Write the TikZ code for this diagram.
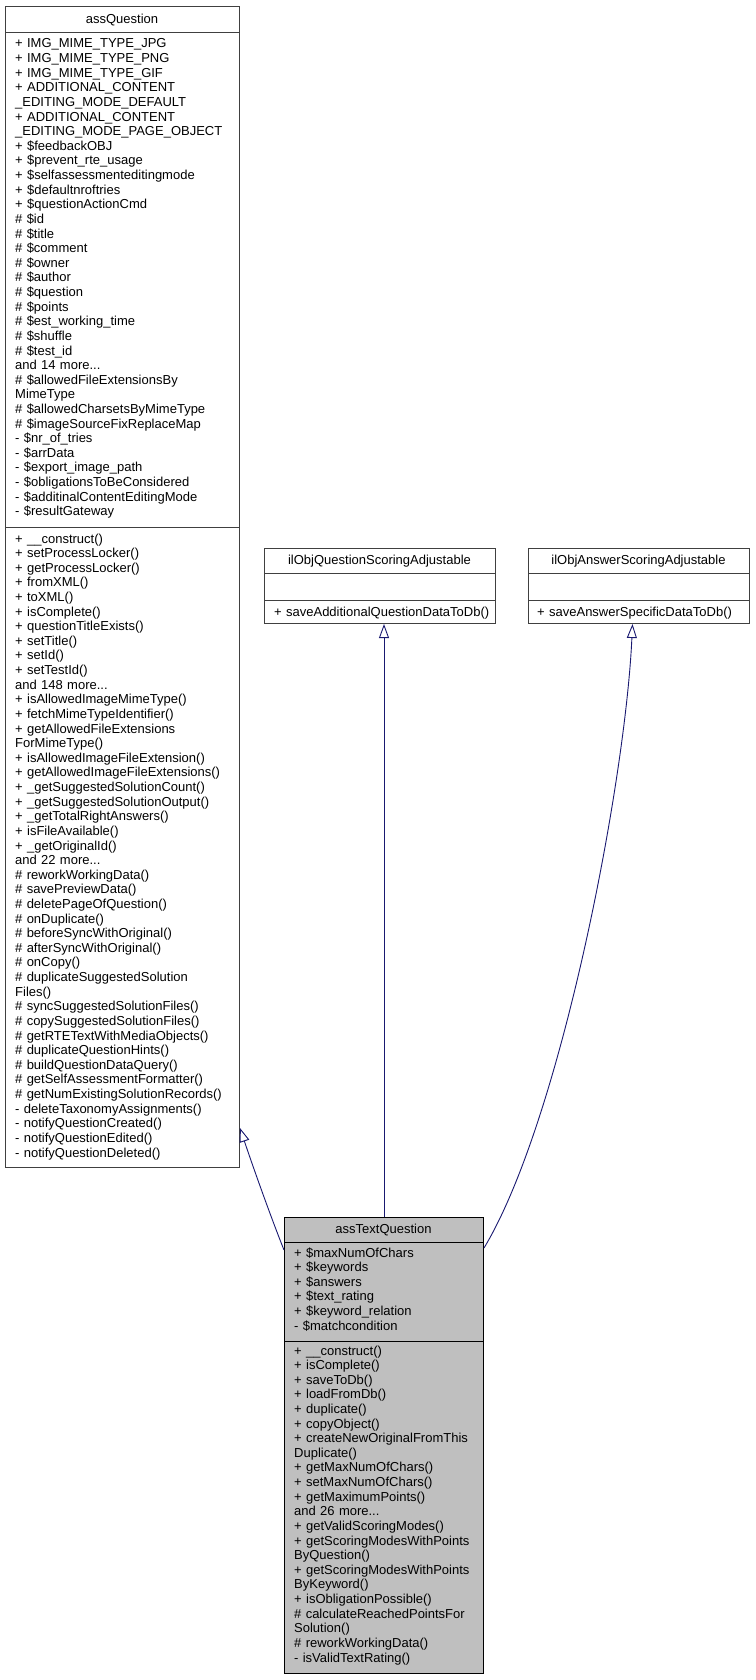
\documentclass[tikz,border=0pt]{standalone}
\usepackage{fontspec}
\setmainfont{Liberation Sans}
\usetikzlibrary{arrows.meta}

\definecolor{edgeblue}{HTML}{191970}
\definecolor{nodegray}{HTML}{BFBFBF}
\definecolor{framegray}{HTML}{404040}

\tikzset{
  classbox/.style={draw=framegray, line width=1pt, inner sep=0pt, anchor=north west},
  divider/.style={draw=framegray, line width=1pt},
  classname/.style={anchor=base, inner sep=0pt, font=\fontsize{13}{14.62}\selectfont},
  members/.style={anchor=base west, inner sep=0pt, align=left, font=\fontsize{13}{14.62}\selectfont},
  inherit/.style={draw=edgeblue, line width=0.9pt, -{Triangle[open,length=14pt,width=10pt]}},
}

\begin{document}
\begin{tikzpicture}[x=1pt, y=-1pt]
  \useasboundingbox (0,0) rectangle (755,1680);

  % base class
  \node[classbox, minimum width=234pt, minimum height=1161pt] (q) at (5,6) {};
  \node[classname] (qname) at (122,24) {assQuestion};
  \draw[divider] (5,33) -- (239,33);
  \node[members, text width=222pt] (qattr) at (15,48) {%
    + IMG\_MIME\_TYPE\_JPG\\
    + IMG\_MIME\_TYPE\_PNG\\
    + IMG\_MIME\_TYPE\_GIF\\
    + ADDITIONAL\_CONTENT\\
    \_EDITING\_MODE\_DEFAULT\\
    + ADDITIONAL\_CONTENT\\
    \_EDITING\_MODE\_PAGE\_OBJECT\\
    + \$feedbackOBJ\\
    + \$prevent\_rte\_usage\\
    + \$selfassessmenteditingmode\\
    + \$defaultnroftries\\
    + \$questionActionCmd\\
    \# \$id\\
    \# \$title\\
    \# \$comment\\
    \# \$owner\\
    \# \$author\\
    \# \$question\\
    \# \$points\\
    \# \$est\_working\_time\\
    \# \$shuffle\\
    \# \$test\_id\\
    and 14 more...\\
    \# \$allowedFileExtensionsBy\\
    MimeType\\
    \# \$allowedCharsetsByMimeType\\
    \# \$imageSourceFixReplaceMap\\
    - \$nr\_of\_tries\\
    - \$arrData\\
    - \$export\_image\_path\\
    - \$obligationsToBeConsidered\\
    - \$additinalContentEditingMode\\
    - \$resultGateway};
  \draw[divider] (5,527) -- (239,527);
  \node[members, text width=222pt] (qops) at (15,543) {%
    + \_\_construct()\\
    + setProcessLocker()\\
    + getProcessLocker()\\
    + fromXML()\\
    + toXML()\\
    + isComplete()\\
    + questionTitleExists()\\
    + setTitle()\\
    + setId()\\
    + setTestId()\\
    and 148 more...\\
    + isAllowedImageMimeType()\\
    + fetchMimeTypeIdentifier()\\
    + getAllowedFileExtensions\\
    ForMimeType()\\
    + isAllowedImageFileExtension()\\
    + getAllowedImageFileExtensions()\\
    + \_getSuggestedSolutionCount()\\
    + \_getSuggestedSolutionOutput()\\
    + \_getTotalRightAnswers()\\
    + isFileAvailable()\\
    + \_getOriginalId()\\
    and 22 more...\\
    \# reworkWorkingData()\\
    \# savePreviewData()\\
    \# deletePageOfQuestion()\\
    \# onDuplicate()\\
    \# beforeSyncWithOriginal()\\
    \# afterSyncWithOriginal()\\
    \# onCopy()\\
    \# duplicateSuggestedSolution\\
    Files()\\
    \# syncSuggestedSolutionFiles()\\
    \# copySuggestedSolutionFiles()\\
    \# getRTETextWithMediaObjects()\\
    \# duplicateQuestionHints()\\
    \# buildQuestionDataQuery()\\
    \# getSelfAssessmentFormatter()\\
    \# getNumExistingSolutionRecords()\\
    - deleteTaxonomyAssignments()\\
    - notifyQuestionCreated()\\
    - notifyQuestionEdited()\\
    - notifyQuestionDeleted()};

  % interfaces
  \node[classbox, minimum width=231pt, minimum height=75pt] (qsa) at (264,548) {};
  \node[classname] (qsaname) at (379.5,564) {ilObjQuestionScoringAdjustable};
  \draw[divider] (264,573) -- (495,573);
  \draw[divider] (264,600) -- (495,600);
  \node[members, text width=225pt] (qsaops) at (274,616) {+ saveAdditionalQuestionDataToDb()};

  \node[classbox, minimum width=221pt, minimum height=75pt] (asa) at (528,548) {};
  \node[classname] (asaname) at (638.5,564) {ilObjAnswerScoringAdjustable};
  \draw[divider] (528,573) -- (749,573);
  \draw[divider] (528,600) -- (749,600);
  \node[members, text width=215pt] (asaops) at (537,616) {+ saveAnswerSpecificDataToDb()};

  % derived class
  \node[classbox, draw=black, fill=nodegray, minimum width=199pt, minimum height=456pt] (tq) at (284,1217) {};
  \node[classname] (tqname) at (383.5,1233) {assTextQuestion};
  \draw[divider, draw=black] (284,1242) -- (483,1242);
  \node[members, text width=188pt] (tqattr) at (294,1257) {%
    + \$maxNumOfChars\\
    + \$keywords\\
    + \$answers\\
    + \$text\_rating\\
    + \$keyword\_relation\\
    - \$matchcondition};
  \draw[divider, draw=black] (284,1341) -- (483,1341);
  \node[members, text width=188pt] (tqops) at (294,1355) {%
    + \_\_construct()\\
    + isComplete()\\
    + saveToDb()\\
    + loadFromDb()\\
    + duplicate()\\
    + copyObject()\\
    + createNewOriginalFromThis\\
    Duplicate()\\
    + getMaxNumOfChars()\\
    + setMaxNumOfChars()\\
    + getMaximumPoints()\\
    and 26 more...\\
    + getValidScoringModes()\\
    + getScoringModesWithPoints\\
    ByQuestion()\\
    + getScoringModesWithPoints\\
    ByKeyword()\\
    + isObligationPossible()\\
    \# calculateReachedPointsFor\\
    Solution()\\
    \# reworkWorkingData()\\
    - isValidTextRating()};

  % inheritance
  \draw[inherit] ([yshift=-33pt]tq.north west) .. controls +(-14,-35) and +(11,33) .. ([yshift=40pt]q.south east);
  \draw[inherit] (tq.north) -- (tq.north |- qsa.south);
  \draw[inherit] ([yshift=-31pt]tq.north east) .. controls +(77,-128) and +(-7,157) .. ([xshift=-6.5pt]asa.south);
\end{tikzpicture}
\end{document}
